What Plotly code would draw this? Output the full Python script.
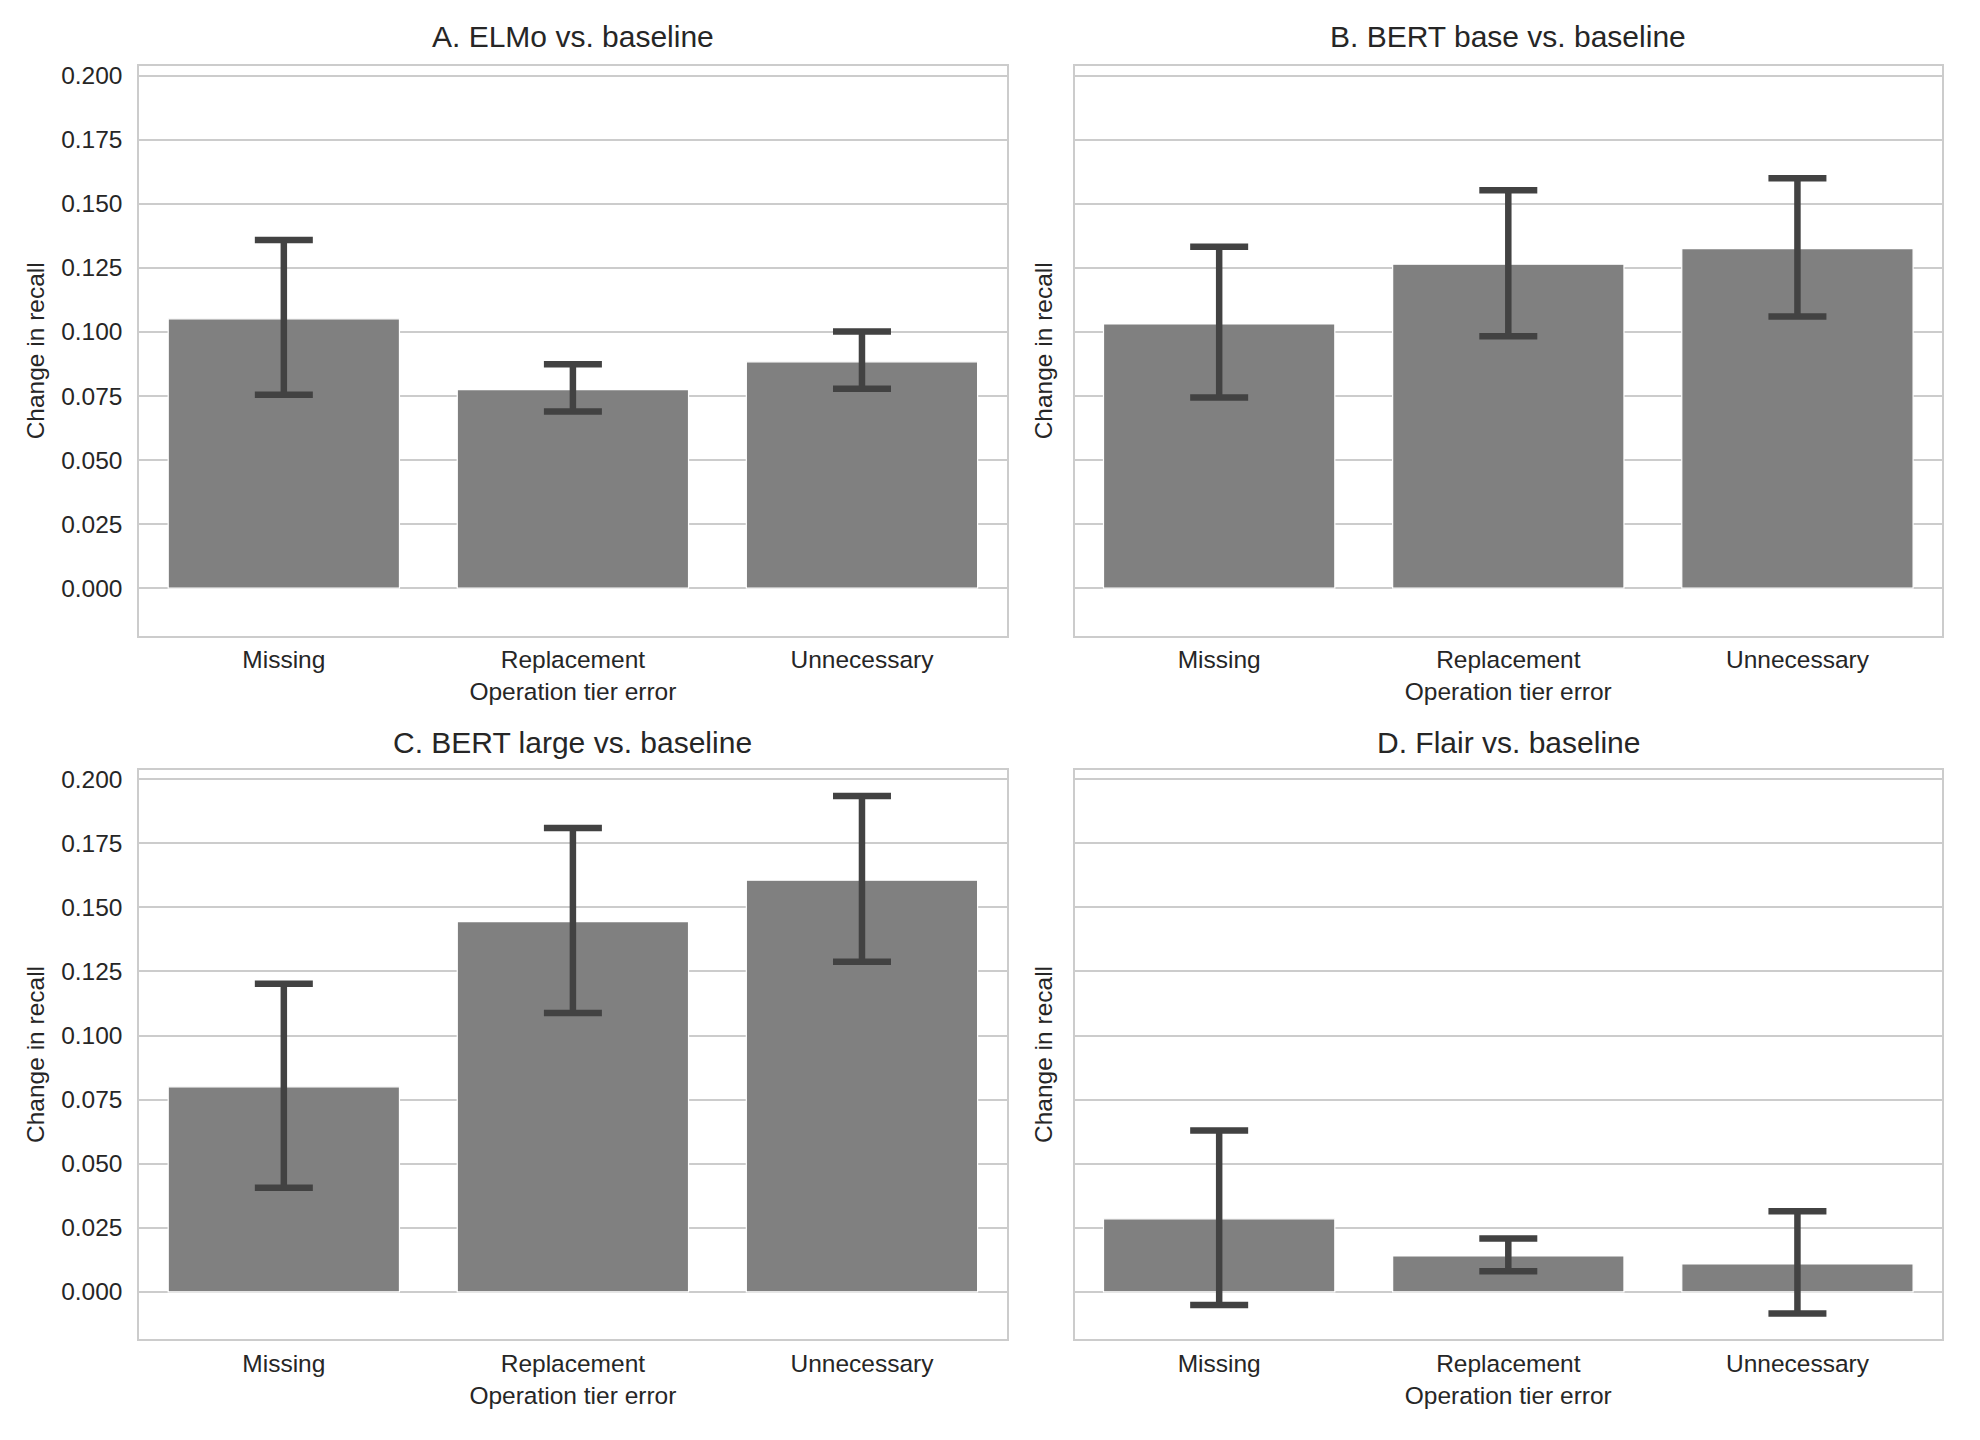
import plotly.graph_objects as go

# ---- data ----
categories = ["Missing", "Replacement", "Unnecessary"]

panel_titles = ["A. ELMo vs. baseline", "B. BERT base vs. baseline",
                "C. BERT large vs. baseline", "D. Flair vs. baseline"]

elmo_mean = [0.1051, 0.0775, 0.0883]
elmo_upper = [0.1359, 0.0874, 0.1001]
elmo_lower = [0.0755, 0.0689, 0.0778]

bert_base_mean = [0.1031, 0.1264, 0.1325]
bert_base_upper = [0.1332, 0.1553, 0.1599]
bert_base_lower = [0.0744, 0.0983, 0.1060]

bert_large_mean = [0.0800, 0.1444, 0.1606]
bert_large_upper = [0.1202, 0.1809, 0.1934]
bert_large_lower = [0.0406, 0.1088, 0.1288]

flair_mean = [0.0285, 0.0140, 0.0109]
flair_upper = [0.0629, 0.0208, 0.0314]
flair_lower = [-0.0051, 0.0080, -0.0084]

y_tick_vals = [0.0, 0.025, 0.05, 0.075, 0.1, 0.125, 0.15, 0.175, 0.2]
y_tick_text = ["0.000", "0.025", "0.050", "0.075", "0.100", "0.125", "0.150", "0.175", "0.200"]

x_title = "Operation tier error"
y_title = "Change in recall"

# ---- figure ----
W, H = 1980, 1440
FONT = "Liberation Sans, Arial, Helvetica, sans-serif"
TXT = "#262626"
GRID = "#cccccc"

x_domains = [[139.3 / W, 1006.5 / W], [1074.6 / W, 1942.0 / W]]
y_domains = [[1 - 633.3 / H, 1 - 62.3 / H], [1 - 1339.0 / H, 1 - 767.8 / H]]
title_y_px = [33.0, 741.0]

panels = [
    (elmo_mean, elmo_upper, elmo_lower),
    (bert_base_mean, bert_base_upper, bert_base_lower),
    (bert_large_mean, bert_large_upper, bert_large_lower),
    (flair_mean, flair_upper, flair_lower),
]

fig = go.Figure()
layout = dict(
    width=W, height=H,
    margin=dict(l=0, r=0, t=0, b=0),
    paper_bgcolor="white", plot_bgcolor="white",
    showlegend=False,
    font=dict(family=FONT, size=24.5, color=TXT),
    annotations=[],
)

for i, (mean, upper, lower) in enumerate(panels):
    row, col = divmod(i, 2)
    n = i + 1
    xa = "x" if n == 1 else f"x{n}"
    ya = "y" if n == 1 else f"y{n}"
    fig.add_trace(go.Bar(
        x=categories, y=mean, width=0.8,
        marker=dict(color="#808080", line=dict(color="white", width=1.2)),
        error_y=dict(
            type="data", symmetric=False,
            array=[u - m for u, m in zip(upper, mean)],
            arrayminus=[m - l for m, l in zip(mean, lower)],
            color="#424242", thickness=6.5, width=29,
        ),
        xaxis=xa, yaxis=ya, hoverinfo="skip",
    ))
    xkey = "xaxis" if n == 1 else f"xaxis{n}"
    ykey = "yaxis" if n == 1 else f"yaxis{n}"
    layout[xkey] = dict(
        domain=x_domains[col], anchor=ya,
        type="category", range=[-0.5, 2.5],
        showgrid=False, zeroline=False,
        showline=True, mirror=True, linecolor=GRID, linewidth=1.8,
        ticks="outside", ticklen=1, tickcolor="rgba(0,0,0,0)",
        tickfont=dict(family=FONT, size=24.5, color=TXT),
        title=dict(text=x_title, font=dict(family=FONT, size=24.5, color=TXT), standoff=11),
    )
    ydict = dict(
        domain=y_domains[row], anchor=xa,
        range=[-0.0185, 0.2037],
        tickvals=y_tick_vals, ticktext=y_tick_text,
        showgrid=True, gridcolor=GRID, gridwidth=1.8,
        zeroline=False,
        showline=True, mirror=True, linecolor=GRID, linewidth=1.8,
        tickfont=dict(family=FONT, size=24.5, color=TXT),
        title=dict(text=y_title, font=dict(family=FONT, size=24.5, color=TXT)),
    )
    if col == 0:
        ydict.update(ticks="outside", ticklen=10, tickcolor="rgba(0,0,0,0)", showticklabels=True)
        ydict["title"]["standoff"] = 10
    else:
        ydict.update(ticks="", showticklabels=False)
        ydict["title"]["standoff"] = 13
    layout[ykey] = ydict
    layout["annotations"].append(dict(
        text=panel_titles[i], xref="paper", yref="paper",
        x=sum(x_domains[col]) / 2, y=1 - title_y_px[row] / H,
        xanchor="center", yanchor="middle", showarrow=False,
        font=dict(family=FONT, size=30, color=TXT),
    ))

fig.update_layout(**layout)
fig.write_html("out.html")
